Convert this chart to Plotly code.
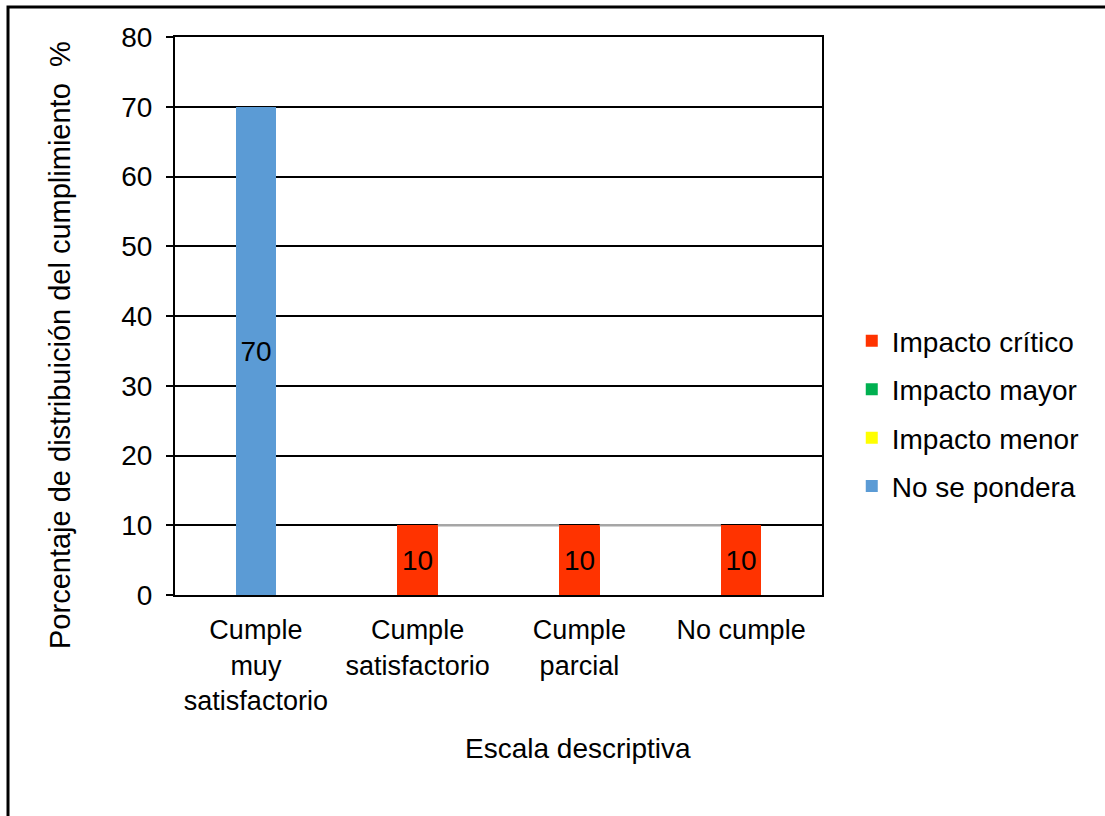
import plotly.graph_objects as go

# Categories on the descriptive scale
categorias = ["Cumple<br>muy<br>satisfactorio", "Cumple<br>satisfactorio",
              "Cumple<br>parcial", "No cumple"]

# Series values (percent); None = no segment drawn
impacto_critico = [None, 10, 10, 10]
impacto_mayor = [None, None, None, None]
impacto_menor = [None, None, None, None]
no_se_pondera = [70, None, None, None]

series = [
    ("Impacto crítico", impacto_critico, "#FF3300"),
    ("Impacto mayor", impacto_mayor, "#00B050"),
    ("Impacto menor", impacto_menor, "#FFFF00"),
    ("No se pondera", no_se_pondera, "#5B9BD5"),
]

y_ticks = [0, 10, 20, 30, 40, 50, 60, 70, 80]

FONT = "Liberation Sans, Arial, sans-serif"
FS = 28
BAR_W = 0.25
xpos = list(range(len(categorias)))

fig = go.Figure()
for name, vals, color in series:
    fig.add_trace(go.Bar(
        x=xpos, y=vals, name=name, width=BAR_W, legendgroup=name,
        marker=dict(color=color, line=dict(width=0)),
        text=[("" if v is None else str(v)) for v in vals],
        textposition="inside", insidetextanchor="middle",
        textfont=dict(family=FONT, size=FS, color="black"),
        constraintext="none",
    ))

# Series lines joining the tops of adjacent "Impacto crítico" segments
shapes = []
for i in range(len(xpos) - 1):
    a, b = impacto_critico[i], impacto_critico[i + 1]
    if a is not None and b is not None:
        shapes.append(dict(type="line", xref="x", yref="y",
                           x0=xpos[i] + BAR_W / 2, x1=xpos[i + 1] - BAR_W / 2,
                           y0=a, y1=b, line=dict(color="#A6A6A6", width=2.5)))

# Outer chart frame
shapes.append(dict(type="rect", xref="paper", yref="paper",
                   x0=-0.2581, x1=1.6, y0=-0.6, y1=1.0538,
                   line=dict(color="black", width=3), layer="below"))

fig.update_layout(
    width=1105, height=816, autosize=False,
    margin=dict(l=175, r=283, t=37, b=221),
    paper_bgcolor="white", plot_bgcolor="white",
    barmode="stack", bargap=0,
    font=dict(family=FONT, size=FS, color="black"),
    showlegend=True,
    legend=dict(x=1.046, xanchor="left", y=0.325, yanchor="middle",
                traceorder="grouped", font=dict(family=FONT, size=FS, color="black"),
                itemwidth=30, tracegroupgap=9, bgcolor="rgba(0,0,0,0)"),
    shapes=shapes,
    uniformtext=dict(minsize=FS, mode="show"),
)

fig.update_xaxes(
    range=[-0.5, len(categorias) - 0.5],
    tickmode="array", tickvals=xpos, ticktext=categorias,
    showgrid=False, zeroline=False,
    showline=True, linecolor="black", linewidth=2, mirror=True,
    ticks="", tickfont=dict(family=FONT, size=27, color="black"),
    ticklabelstandoff=10,
)
fig.update_yaxes(
    range=[0, 80], tickmode="array", tickvals=y_ticks,
    showgrid=True, gridcolor="black", gridwidth=2,
    zeroline=False,
    showline=True, linecolor="black", linewidth=2, mirror=True,
    ticks="outside", ticklen=7, tickwidth=2, tickcolor="black",
    tickfont=dict(family=FONT, size=FS, color="black"),
    ticklabelstandoff=8,
)

# Axis titles
fig.add_annotation(text="Porcentaje de distribuición del cumplimiento  %",
                   xref="paper", yref="paper", x=(60 - 175) / 647, y=(595 - 345) / 558,
                   xanchor="center", yanchor="middle",
                   textangle=-90, showarrow=False,
                   font=dict(family=FONT, size=29, color="black"))
fig.add_annotation(text="Escala descriptiva",
                   xref="paper", yref="paper", x=(578 - 175) / 647, y=(595 - 748) / 558,
                   xanchor="center", yanchor="middle",
                   showarrow=False, font=dict(family=FONT, size=FS, color="black"))

fig.write_html("out.html")
